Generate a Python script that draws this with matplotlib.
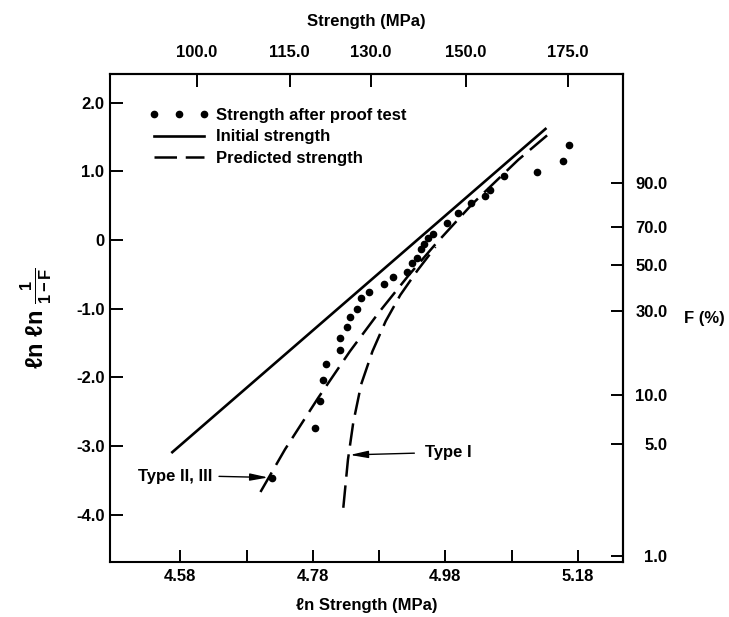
import numpy as np
import matplotlib
matplotlib.use('Agg')
import matplotlib.pyplot as plt

plt.rcParams['font.family'] = ['Liberation Sans', 'DejaVu Sans']
plt.rcParams['font.size'] = 12
plt.rcParams['font.weight'] = 'bold'
plt.rcParams['axes.labelweight'] = 'bold'
plt.rcParams['axes.unicode_minus'] = False
plt.rcParams['mathtext.fontset'] = 'custom'
plt.rcParams['mathtext.rm'] = 'Liberation Sans:bold'
plt.rcParams['mathtext.it'] = 'Liberation Sans:bold:italic'
plt.rcParams['mathtext.bf'] = 'Liberation Sans:bold'

###DATA###
# strength after proof test: ln strength vs ln ln 1/(1-F)
proof_x = [4.719, 4.784, 4.791, 4.796, 4.800, 4.821, 4.821, 4.832, 4.836, 4.847,
           4.853, 4.865, 4.888, 4.901, 4.922, 4.930, 4.937, 4.943, 4.948, 4.954,
           4.962, 4.983, 4.999, 5.019, 5.040, 5.048, 5.069, 5.118, 5.158, 5.167]
proof_y = [-3.46, -2.74, -2.34, -2.04, -1.80, -1.60, -1.43, -1.27, -1.12, -1.00,
           -0.84, -0.76, -0.64, -0.54, -0.47, -0.33, -0.26, -0.13, -0.06, 0.03,
           0.09, 0.25, 0.39, 0.54, 0.64, 0.73, 0.93, 0.99, 1.15, 1.38]

# initial strength (straight weibull line)
init_x = [4.568, 5.131]
init_y = [-3.09, 1.62]

# predicted strength, type II, III
pred23_x = [4.701, 4.738, 4.788, 4.836, 4.880, 4.924, 4.965, 5.020, 5.050, 5.090, 5.134]
pred23_y = [-3.67, -3.05, -2.30, -1.62, -1.05, -0.52, -0.06, 0.52, 0.80, 1.17, 1.53]

# predicted strength, type I
pred1_x = [4.826, 4.833, 4.841, 4.853, 4.870, 4.890, 4.912, 4.938, 4.965]
pred1_y = [-3.90, -3.20, -2.66, -2.10, -1.62, -1.18, -0.80, -0.44, -0.10]

# axis ticks
x_ticks = [4.58, 4.78, 4.98, 5.18]
x_minor = [4.68, 4.88, 5.08]
y_ticks = [2.0, 1.0, 0.0, -1.0, -2.0, -3.0, -4.0]
y_labels = ['2.0', '1.0', '0', '-1.0', '-2.0', '-3.0', '-4.0']
top_ticks = [100.0, 115.0, 130.0, 150.0, 175.0]
right_ticks = [1.0, 5.0, 10.0, 30.0, 50.0, 70.0, 90.0]


###FUNCTIONS###
def ln_to_mpa(x):
	return np.exp(x)

def mpa_to_ln(s):
	return np.log(np.clip(s, 1e-9, None))

def lnln_to_pct(y):
	return 100.0 * (1.0 - np.exp(-np.exp(y)))

def pct_to_lnln(f):
	f = np.clip(np.asarray(f, dtype=float), 1e-9, 99.99999)
	return np.log(-np.log(1.0 - f / 100.0))


###PLOT###
fig = plt.figure(figsize=(7.29, 6.17), dpi=100)
ax = fig.add_axes([110/729, 55/617, 513/729, 488/617])

tick_kw = dict(direction='in', length=9, width=1.4, color='k')

ax.plot(proof_x, proof_y, 'o', color='k', ms=4.5, label='Strength after proof test')
ax.plot(init_x, init_y, '-', color='k', lw=1.9, label='Initial strength')
ax.plot(pred23_x, pred23_y, color='k', lw=1.8, dashes=(9, 3.5), label='Predicted strength')
ax.plot(pred1_x, pred1_y, color='k', lw=1.8, dashes=(9, 3.5))

ax.set_xlim(4.474, 5.248)
ax.set_ylim(-4.69, 2.42)

ax.set_xticks(x_ticks, ['%.2f' % v for v in x_ticks])
ax.set_xticks(x_minor, minor=True)
ax.set_yticks(y_ticks, y_labels)
ax.tick_params(axis='both', which='both', **tick_kw)
ax.tick_params(axis='x', pad=5)
ax.tick_params(axis='y', pad=4)
for s in ax.spines.values():
	s.set_linewidth(1.5)

ax.set_xlabel('ℓn Strength (MPa)', labelpad=10)
ax.set_ylabel(r'ℓn ℓn $\frac{1}{\mathrm{1-F}}$', fontsize=17, labelpad=16)

# top axis: strength in MPa
top = ax.secondary_xaxis('top', functions=(ln_to_mpa, mpa_to_ln))
top.set_xticks(top_ticks, ['%.1f' % v for v in top_ticks])
top.tick_params(pad=10, **tick_kw)
top.set_xlabel('Strength (MPa)', labelpad=14)
top.spines['top'].set_linewidth(1.5)

# right axis: F in percent
right = ax.secondary_yaxis('right', functions=(lnln_to_pct, pct_to_lnln))
right.set_yticks(right_ticks, ['%.1f' % v for v in right_ticks], ha='right')
right.tick_params(pad=32, **tick_kw)
right.set_ylabel('F (%)', rotation=0, ha='left', va='center', labelpad=12)
right.spines['right'].set_linewidth(1.5)

# annotations
ax.annotate('Type II, III', xy=(proof_x[0], proof_y[0]), xytext=(4.628, -3.44),
            ha='right', va='center',
            arrowprops=dict(arrowstyle='-|>,head_length=0.9,head_width=0.18', color='k',
                            lw=1.0, relpos=(1, 0.5), shrinkA=3, shrinkB=3))
ax.annotate('Type I', xy=(4.836, -3.13), xytext=(4.950, -3.10),
            ha='left', va='center',
            arrowprops=dict(arrowstyle='-|>,head_length=0.9,head_width=0.18', color='k',
                            lw=1.0, relpos=(0, 0.5), shrinkA=6, shrinkB=0))

ax.legend(loc='upper left', bbox_to_anchor=(0.076, 0.93), frameon=False, numpoints=3,
          handlelength=3.6, handletextpad=0.45, labelspacing=0.38, borderaxespad=0,
          borderpad=0, prop={'weight': 'bold', 'size': 12})

fig.savefig('out.png', dpi=100)
plt.close()
